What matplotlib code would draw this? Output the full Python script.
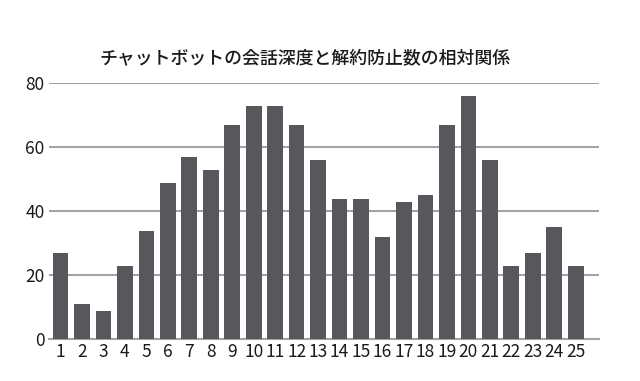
import matplotlib
matplotlib.use("Agg")
import matplotlib.pyplot as plt

plt.rcParams['font.family'] = ['Noto Sans CJK JP', 'DejaVu Sans']

title = "チャットボットの会話深度と解約防止数の相対関係"
categories = list(range(1, 26))
values = [27, 11, 9, 23, 34, 49, 57, 53, 67, 73, 73, 67, 56,
          44, 44, 32, 43, 45, 67, 76, 56, 23, 27, 35, 23]
yticks = [0, 20, 40, 60, 80]

fig = plt.figure(figsize=(6.4, 3.81), dpi=100)
ax = fig.add_axes([48.7/640, 1 - 339.3/381, 550/640, 256/381])

ax.bar(categories, values, width=0.73, color='#58575c', zorder=3)
ax.set_xlim(0.45, 26.07)
ax.set_ylim(0, 80)
ax.set_yticks(yticks)
ax.set_xticks(categories)
ax.set_xticklabels([str(c) for c in categories])
ax.yaxis.grid(True, color='#a3a3a3', linewidth=1.5, zorder=0)
ax.set_axisbelow(True)
for s in ['top', 'right', 'left']:
    ax.spines[s].set_visible(False)
ax.spines['bottom'].set_color('#a3a3a3')
ax.spines['bottom'].set_linewidth(1.5)
ax.tick_params(axis='both', length=0, labelsize=12.5, colors='#1a1a1a')
ax.tick_params(axis='x', pad=3)
ax.tick_params(axis='y', pad=3)
fig.text(305/640, 1 - 58/381, title, ha='center', va='center', fontsize=12.9,
         fontweight='medium', color='#1a1a1a')

fig.savefig('out.png', dpi=100)
